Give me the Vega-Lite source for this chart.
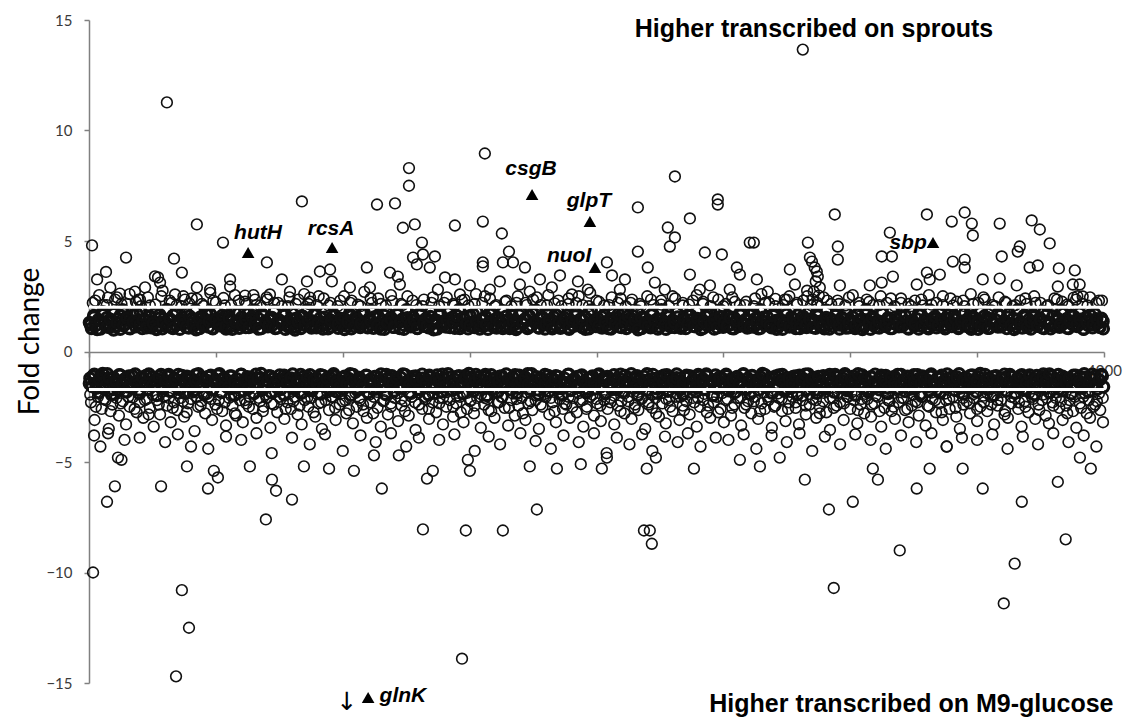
{
"$schema": "https://vega.github.io/schema/vega-lite/v6.json",
"width": 1015, "height": 663,
"autosize": {"type": "none"},
"padding": {"left": 89, "top": 20, "right": 20, "bottom": 34},
"background": "white",
"config": {"view": {"stroke": null}, "axis": {"grid": false, "labelFont": "Lato", "titleFont": "Lato", "labelColor": "#3a3a3a", "domainColor": "#808080", "tickColor": "#808080", "domainWidth": 1.5, "tickWidth": 1.5}},
"encoding": {
"x": {"field": "x", "type": "quantitative", "scale": {"domain": [0, 4000], "nice": false}, "axis": {"values": [0,500,1000,1500,2000,2500,3000,3500,4000], "offset": -331, "tickSize": 5, "labelExpr": "datum.value == 4000 ? '4000' : ''", "labelFlush": false, "labelOverlap": false, "labelFontSize": 15, "labelPadding": 6, "title": null}},
"y": {"field": "y", "type": "quantitative", "scale": {"domain": [-15, 15], "nice": false, "zero": false}, "axis": {"values": [-15,-10,-5,0,5,10,15], "tickSize": 5, "labelFontSize": 15, "labelPadding": 12, "title": "Fold change", "titleFontSize": 28, "titleFontWeight": "normal", "titleColor": "#000", "titleX": -59, "titleY": 321, "titleAngle": -90, "titleAlign": "center", "titleBaseline": "middle"}}
},
"layer": [
{"data": {"values": "x,y\n2,1.31\n10,1.05\n19,1.62\n27,1.18\n37,1.44\n45,1.02\n54,1.79\n62,1.27\n71,1.53\n80,1.09\n88,1.36\n98,1.71\n106,1.14\n115,1.48\n123,1.01\n132,1.88\n141,1.23\n149,1.57\n158,1.06\n167,1.39\n175,1.66\n184,1.12\n193,1.29\n201,1.83\n210,1.04\n219,1.46\n228,1.21\n236,1.6\n245,1.08\n254,1.34\n262,1.75\n271,1.16\n280,1.51\n289,1.03\n297,1.25\n306,1.9\n315,1.41\n323,1.1\n332,1.64\n341,1.19\n349,1.37\n358,1.01\n367,1.55\n375,1.28\n384,1.73\n393,1.07\n401,1.45\n410,1.15\n419,1.86\n427,1.32\n436,1.05\n445,1.59\n453,1.22\n462,1.42\n471,1.11\n479,1.68\n488,1.03\n497,1.35\n505,1.8\n514,1.17\n523,1.49\n532,1.26\n540,1.02\n549,1.63\n558,1.13\n566,1.4\n575,1.77\n584,1.2\n592,1.06\n601,1.54\n610,1.3\n618,1.09\n627,1.7\n636,1.38\n644,1.14\n653,1.87\n662,1.24\n670,1.47\n679,1.04\n688,1.61\n696,1.33\n705,1.12\n714,1.52\n722,1.19\n731,1.84\n740,1.07\n748,1.43\n757,1.27\n766,1.65\n774,1.01\n783,1.36\n792,1.18\n800,1.74\n809,1.1\n818,1.5\n826,1.29\n835,1.05\n844,1.58\n852,1.21\n861,1.89\n870,1.14\n878,1.39\n887,1.66\n896,1.08\n904,1.31\n913,1.53\n922,1.02\n930,1.78\n939,1.23\n948,1.44\n956,1.12\n965,1.6\n974,1.35\n982,1.06\n991,1.82\n1000,1.26\n1008,1.47\n1017,1.15\n1026,1.69\n1034,1.03\n1043,1.37\n1052,1.56\n1060,1.2\n1069,1.09\n1078,1.72\n1086,1.32\n1095,1.13\n1104,1.49\n1112,1.85\n1121,1.06\n1130,1.28\n1138,1.62\n1147,1.17\n1156,1.41\n1164,1.01\n1173,1.76\n1182,1.24\n1190,1.54\n1199,1.1\n1208,1.34\n1216,1.67\n1225,1.05\n1234,1.45\n1242,1.19\n1251,1.88\n1260,1.3\n1268,1.12\n1277,1.57\n1286,1.22\n1294,1.04\n1303,1.71\n1312,1.38\n1320,1.15\n1329,1.5\n1338,1.08\n1346,1.81\n1355,1.27\n1364,1.43\n1372,1.02\n1381,1.64\n1390,1.18\n1398,1.35\n1407,1.11\n1416,1.75\n1424,1.29\n1433,1.55\n1442,1.06\n1450,1.4\n1459,1.9\n1468,1.16\n1476,1.47\n1485,1.23\n1494,1.03\n1502,1.61\n1511,1.33\n1520,1.09\n1528,1.79\n1537,1.2\n1546,1.44\n1554,1.13\n1563,1.58\n1572,1.01\n1580,1.36\n1589,1.7\n1598,1.25\n1606,1.07\n1615,1.52\n1624,1.31\n1632,1.84\n1641,1.14\n1650,1.42\n1658,1.05\n1667,1.65\n1676,1.22\n1684,1.39\n1693,1.1\n1702,1.77\n1710,1.28\n1719,1.48\n1728,1.04\n1736,1.6\n1745,1.17\n1754,1.34\n1762,1.86\n1771,1.08\n1780,1.51\n1788,1.24\n1797,1.02\n1806,1.68\n1814,1.37\n1823,1.12\n1832,1.56\n1840,1.19\n1849,1.8\n1858,1.06\n1866,1.43\n1875,1.3\n1884,1.63\n1892,1.01\n1901,1.39\n1910,1.15\n1918,1.74\n1927,1.26\n1936,1.46\n1944,1.09\n1953,1.59\n1962,1.21\n1970,1.03\n1979,1.87\n1988,1.33\n1996,1.13\n2005,1.5\n2014,1.27\n2022,1.07\n2031,1.66\n2040,1.18\n2048,1.41\n2057,1.02\n2066,1.78\n2074,1.29\n2083,1.53\n2092,1.11\n2100,1.36\n2109,1.72\n2118,1.05\n2126,1.45\n2135,1.22\n2144,1.61\n2152,1.14\n2161,1.83\n2170,1.32\n2178,1.04\n2187,1.55\n2196,1.19\n2204,1.4\n2213,1.08\n2222,1.69\n2230,1.25\n2239,1.47\n2248,1.12\n2256,1.89\n2265,1.35\n2274,1.01\n2282,1.57\n2291,1.23\n2300,1.42\n2308,1.09\n2317,1.76\n2326,1.3\n2334,1.16\n2343,1.52\n2352,1.04\n2360,1.64\n2369,1.28\n2378,1.44\n2386,1.13\n2395,1.81\n2404,1.21\n2412,1.38\n2421,1.06\n2430,1.59\n2438,1.17\n2447,1.73\n2456,1.31\n2464,1.02\n2473,1.49\n2482,1.26\n2490,1.85\n2499,1.1\n2508,1.37\n2516,1.62\n2525,1.2\n2534,1.05\n2542,1.54\n2551,1.33\n2560,1.14\n2568,1.79\n2577,1.24\n2586,1.43\n2594,1.07\n2603,1.67\n2612,1.29\n2620,1.11\n2629,1.51\n2638,1.03\n2646,1.88\n2655,1.36\n2664,1.18\n2672,1.58\n2681,1.25\n2690,1.08\n2698,1.7\n2707,1.4\n2716,1.15\n2724,1.46\n2733,1.01\n2742,1.82\n2750,1.3\n2759,1.12\n2768,1.56\n2776,1.22\n2785,1.04\n2794,1.65\n2802,1.34\n2811,1.19\n2820,1.5\n2828,1.09\n2837,1.77\n2846,1.27\n2854,1.42\n2863,1.06\n2872,1.6\n2880,1.16\n2889,1.38\n2898,1.03\n2906,1.86\n2915,1.23\n2924,1.47\n2932,1.13\n2941,1.63\n2950,1.32\n2958,1.02\n2967,1.53\n2976,1.2\n2984,1.75\n2993,1.08\n3002,1.41\n3010,1.28\n3019,1.05\n3028,1.68\n3036,1.17\n3045,1.44\n3054,1.11\n3062,1.9\n3071,1.35\n3080,1.01\n3088,1.57\n3097,1.24\n3106,1.39\n3114,1.07\n3123,1.73\n3132,1.3\n3140,1.14\n3149,1.52\n3158,1.04\n3166,1.84\n3175,1.26\n3184,1.45\n3192,1.12\n3201,1.61\n3210,1.21\n3218,1.36\n3227,1.06\n3236,1.79\n3244,1.33\n3253,1.15\n3262,1.48\n3270,1.02\n3279,1.66\n3288,1.27\n3296,1.43\n3305,1.1\n3314,1.87\n3322,1.22\n3331,1.55\n3340,1.08\n3348,1.37\n3357,1.71\n3366,1.18\n3374,1.03\n3383,1.5\n3392,1.29\n3400,1.13\n3409,1.64\n3418,1.25\n3426,1.05\n3435,1.8\n3444,1.34\n3452,1.16\n3461,1.46\n3470,1.09\n3478,1.59\n3487,1.23\n3496,1.4\n3504,1.01\n3513,1.76\n3522,1.31\n3530,1.14\n3539,1.53\n3548,1.06\n3556,1.83\n3565,1.28\n3574,1.42\n3582,1.11\n3591,1.62\n3600,1.19\n3608,1.35\n3617,1.04\n3626,1.7\n3634,1.26\n3643,1.49\n3652,1.12\n3660,1.88\n3669,1.32\n3678,1.07\n3686,1.56\n3695,1.2\n3704,1.44\n3712,1.02\n3721,1.67\n3730,1.29\n3738,1.15\n3747,1.51\n3756,1.08\n3764,1.78\n3773,1.36\n3782,1.24\n3790,1.03\n3799,1.6\n3808,1.17\n3816,1.41\n3825,1.1\n3834,1.85\n3842,1.27\n3851,1.47\n3860,1.05\n3868,1.63\n3877,1.21\n3886,1.38\n3894,1.13\n3903,1.74\n3912,1.3\n3920,1.01\n3929,1.54\n3938,1.18\n3946,1.43\n3955,1.08\n3964,1.69\n3972,1.25\n3981,1.11\n3990,1.5\n3997,1.03\n4,-1.22\n12,-1.58\n21,-1.03\n29,-1.41\n38,-1.87\n46,-1.14\n55,-1.66\n63,-1.29\n72,-1.01\n80,-1.49\n89,-1.95\n97,-1.18\n106,-1.36\n114,-1.74\n123,-1.07\n131,-1.52\n140,-1.25\n148,-1.83\n157,-1.11\n165,-1.44\n174,-1.62\n182,-1.02\n191,-1.33\n199,-1.91\n208,-1.19\n216,-1.55\n225,-1.09\n233,-1.71\n242,-1.38\n250,-1.16\n259,-1.48\n267,-1.99\n276,-1.27\n284,-1.05\n293,-1.64\n301,-1.35\n310,-1.13\n318,-1.8\n327,-1.42\n335,-1.21\n344,-1.57\n352,-1.04\n361,-1.69\n369,-1.31\n378,-1.89\n386,-1.12\n395,-1.46\n403,-1.23\n412,-1.76\n420,-1.06\n429,-1.39\n437,-1.6\n446,-1.17\n454,-1.94\n463,-1.3\n471,-1.5\n480,-1.08\n488,-1.72\n497,-1.26\n505,-1.43\n514,-1.01\n522,-1.85\n531,-1.2\n539,-1.56\n548,-1.34\n556,-1.11\n565,-1.67\n573,-1.97\n582,-1.24\n590,-1.47\n599,-1.05\n607,-1.78\n616,-1.37\n624,-1.15\n633,-1.61\n641,-1.28\n650,-1.9\n658,-1.03\n667,-1.45\n675,-1.19\n684,-1.73\n692,-1.32\n701,-1.54\n709,-1.1\n718,-1.84\n726,-1.22\n735,-1.4\n743,-1.65\n752,-1.07\n760,-1.3\n769,-1.96\n777,-1.17\n786,-1.51\n794,-1.36\n803,-1.02\n811,-1.7\n820,-1.25\n828,-1.44\n837,-1.88\n845,-1.13\n854,-1.59\n862,-1.29\n871,-1.06\n879,-1.77\n888,-1.41\n896,-1.2\n905,-1.53\n913,-1.92\n922,-1.09\n930,-1.34\n939,-1.63\n947,-1.16\n956,-1.48\n964,-1.01\n973,-1.81\n981,-1.27\n990,-1.38\n998,-1.68\n1007,-1.12\n1015,-1.55\n1024,-1.23\n1032,-1.98\n1041,-1.04\n1049,-1.42\n1058,-1.75\n1066,-1.18\n1075,-1.31\n1083,-1.6\n1092,-1.08\n1100,-1.86\n1109,-1.26\n1117,-1.47\n1126,-1.14\n1134,-1.69\n1143,-1.35\n1151,-1.02\n1160,-1.57\n1168,-1.93\n1177,-1.21\n1185,-1.45\n1194,-1.1\n1202,-1.79\n1211,-1.32\n1219,-1.52\n1228,-1.17\n1236,-1.64\n1245,-1.05\n1253,-1.4\n1262,-1.87\n1270,-1.24\n1279,-1.5\n1287,-1.11\n1296,-1.71\n1304,-1.37\n1313,-1.03\n1321,-1.58\n1330,-1.28\n1338,-1.95\n1347,-1.15\n1355,-1.43\n1364,-1.66\n1372,-1.07\n1381,-1.33\n1389,-1.82\n1398,-1.2\n1406,-1.54\n1415,-1.01\n1423,-1.47\n1432,-1.74\n1440,-1.25\n1449,-1.13\n1457,-1.62\n1466,-1.39\n1474,-1.9\n1483,-1.09\n1491,-1.3\n1500,-1.56\n1508,-1.19\n1517,-1.78\n1525,-1.04\n1534,-1.44\n1542,-1.27\n1551,-1.67\n1559,-1.14\n1568,-1.99\n1576,-1.36\n1585,-1.06\n1593,-1.51\n1602,-1.22\n1610,-1.84\n1619,-1.12\n1627,-1.41\n1636,-1.61\n1644,-1.02\n1653,-1.29\n1661,-1.73\n1670,-1.17\n1678,-1.48\n1687,-1.89\n1695,-1.08\n1704,-1.35\n1712,-1.55\n1721,-1.23\n1729,-1.01\n1738,-1.7\n1746,-1.31\n1755,-1.46\n1763,-1.15\n1772,-1.93\n1780,-1.26\n1789,-1.59\n1797,-1.05\n1806,-1.38\n1814,-1.8\n1823,-1.18\n1831,-1.5\n1840,-1.1\n1848,-1.65\n1857,-1.33\n1865,-1.96\n1874,-1.21\n1882,-1.43\n1891,-1.03\n1899,-1.76\n1908,-1.28\n1916,-1.53\n1925,-1.14\n1933,-1.62\n1942,-1.07\n1950,-1.4\n1959,-1.86\n1967,-1.24\n1976,-1.47\n1984,-1.11\n1993,-1.69\n2001,-1.34\n2010,-1.02\n2018,-1.57\n2027,-1.2\n2035,-1.91\n2044,-1.16\n2052,-1.44\n2061,-1.72\n2069,-1.06\n2078,-1.3\n2086,-1.6\n2095,-1.25\n2103,-1.83\n2112,-1.09\n2120,-1.49\n2129,-1.37\n2137,-1.01\n2146,-1.66\n2154,-1.19\n2163,-1.97\n2171,-1.28\n2180,-1.45\n2188,-1.13\n2197,-1.75\n2205,-1.32\n2214,-1.54\n2222,-1.04\n2231,-1.41\n2239,-1.88\n2248,-1.22\n2256,-1.63\n2265,-1.08\n2273,-1.35\n2282,-1.79\n2290,-1.15\n2299,-1.51\n2307,-1.27\n2316,-1.02\n2324,-1.68\n2333,-1.39\n2341,-1.94\n2350,-1.17\n2358,-1.46\n2367,-1.1\n2375,-1.58\n2384,-1.29\n2392,-1.82\n2401,-1.05\n2409,-1.42\n2418,-1.23\n2426,-1.71\n2435,-1.12\n2443,-1.52\n2452,-1.36\n2460,-1.99\n2469,-1.07\n2477,-1.31\n2486,-1.64\n2494,-1.2\n2503,-1.48\n2511,-1.03\n2520,-1.77\n2528,-1.26\n2537,-1.4\n2545,-1.85\n2554,-1.14\n2562,-1.56\n2571,-1.33\n2579,-1.01\n2588,-1.67\n2596,-1.21\n2605,-1.92\n2613,-1.09\n2622,-1.45\n2630,-1.28\n2639,-1.74\n2647,-1.16\n2656,-1.5\n2664,-1.06\n2673,-1.61\n2681,-1.38\n2690,-1.87\n2698,-1.24\n2707,-1.11\n2715,-1.55\n2724,-1.32\n2732,-1.04\n2741,-1.8\n2749,-1.19\n2758,-1.43\n2766,-1.66\n2775,-1.13\n2783,-1.35\n2792,-1.95\n2800,-1.08\n2809,-1.47\n2817,-1.25\n2826,-1.72\n2834,-1.02\n2843,-1.39\n2851,-1.59\n2860,-1.18\n2868,-1.89\n2877,-1.3\n2885,-1.52\n2894,-1.1\n2902,-1.69\n2911,-1.27\n2919,-1.05\n2928,-1.44\n2936,-1.83\n2945,-1.15\n2953,-1.36\n2962,-1.62\n2970,-1.21\n2979,-1.01\n2987,-1.76\n2996,-1.34\n3004,-1.49\n3013,-1.12\n3021,-1.97\n3030,-1.23\n3038,-1.41\n3047,-1.07\n3055,-1.65\n3064,-1.29\n3072,-1.84\n3081,-1.16\n3089,-1.53\n3098,-1.03\n3106,-1.38\n3115,-1.73\n3123,-1.2\n3132,-1.46\n3140,-1.09\n3149,-1.9\n3157,-1.31\n3166,-1.57\n3174,-1.14\n3183,-1.26\n3191,-1.68\n3200,-1.04\n3208,-1.42\n3217,-1.81\n3225,-1.17\n3234,-1.5\n3242,-1.35\n3251,-1.06\n3259,-1.63\n3268,-1.24\n3276,-1.94\n3285,-1.11\n3293,-1.45\n3302,-1.28\n3310,-1.78\n3319,-1.02\n3327,-1.37\n3336,-1.55\n3344,-1.19\n3353,-1.86\n3361,-1.08\n3370,-1.33\n3378,-1.6\n3387,-1.22\n3395,-1.47\n3404,-1.13\n3412,-1.75\n3421,-1.3\n3429,-1.01\n3438,-1.52\n3446,-1.92\n3455,-1.18\n3463,-1.4\n3472,-1.66\n3480,-1.07\n3489,-1.27\n3497,-1.83\n3506,-1.15\n3514,-1.54\n3523,-1.36\n3531,-1.04\n3540,-1.7\n3548,-1.21\n3557,-1.44\n3565,-1.98\n3574,-1.1\n3582,-1.32\n3591,-1.58\n3599,-1.25\n3608,-1.03\n3616,-1.79\n3625,-1.39\n3633,-1.14\n3642,-1.49\n3650,-1.88\n3659,-1.2\n3667,-1.61\n3676,-1.06\n3684,-1.34\n3693,-1.72\n3701,-1.17\n3710,-1.43\n3718,-1.28\n3727,-1.95\n3735,-1.09\n3744,-1.53\n3752,-1.3\n3761,-1.02\n3769,-1.67\n3778,-1.23\n3786,-1.85\n3795,-1.12\n3803,-1.41\n3812,-1.59\n3820,-1.05\n3829,-1.35\n3837,-1.77\n3846,-1.19\n3854,-1.46\n3863,-1.26\n3871,-1.91\n3880,-1.08\n3888,-1.55\n3897,-1.33\n3905,-1.14\n3914,-1.64\n3922,-1.01\n3931,-1.4\n3939,-1.82\n3948,-1.22\n3956,-1.5\n3965,-1.11\n3973,-1.7\n3982,-1.29\n3990,-1.04\n3998,-1.6", "format": {"type": "csv", "parse": {"x": "number", "y": "number"}}},
 "mark": {"type": "point", "shape": "circle", "filled": false, "color": "#111", "strokeWidth": 3.2, "size": 110, "opacity": 1}},
{"data": {"values": "x,y\n6,1.22\n19,1.55\n32,1.0\n45,1.38\n58,1.68\n71,1.12\n84,1.45\n97,0.98\n110,1.3\n123,1.62\n136,1.17\n149,1.5\n162,1.03\n175,1.35\n188,1.72\n201,1.2\n214,1.42\n227,1.08\n240,1.58\n253,1.27\n266,1.0\n279,1.66\n292,1.33\n305,1.13\n318,1.48\n331,1.04\n344,1.74\n357,1.24\n370,1.4\n383,1.1\n396,1.6\n409,1.29\n422,0.99\n435,1.52\n448,1.18\n461,1.7\n474,1.36\n487,1.06\n500,1.44\n513,1.23\n526,1.64\n539,1.14\n552,1.5\n565,1.01\n578,1.32\n591,1.73\n604,1.2\n617,1.46\n630,1.09\n643,1.57\n656,1.28\n669,1.02\n682,1.69\n695,1.37\n708,1.16\n721,1.53\n734,1.05\n747,1.41\n760,1.25\n773,1.67\n786,1.11\n799,1.47\n812,0.98\n825,1.34\n838,1.61\n851,1.19\n864,1.43\n877,1.07\n890,1.71\n903,1.3\n916,1.15\n929,1.55\n942,1.03\n955,1.39\n968,1.65\n981,1.21\n994,1.49\n1007,1.0\n1020,1.33\n1033,1.6\n1046,1.13\n1059,1.45\n1072,1.26\n1085,1.74\n1098,1.08\n1111,1.38\n1124,1.56\n1137,1.17\n1150,1.02\n1163,1.63\n1176,1.29\n1189,1.48\n1202,1.1\n1215,1.7\n1228,1.35\n1241,1.01\n1254,1.52\n1267,1.23\n1280,1.42\n1293,1.06\n1306,1.66\n1319,1.31\n1332,1.14\n1345,1.58\n1358,0.99\n1371,1.4\n1384,1.72\n1397,1.2\n1410,1.47\n1423,1.09\n1436,1.34\n1449,1.62\n1462,1.04\n1475,1.53\n1488,1.27\n1501,1.16\n1514,1.68\n1527,1.37\n1540,1.02\n1553,1.44\n1566,1.22\n1579,1.75\n1592,1.12\n1605,1.49\n1618,1.3\n1631,1.05\n1644,1.59\n1657,1.18\n1670,1.39\n1683,1.0\n1696,1.64\n1709,1.26\n1722,1.46\n1735,1.11\n1748,1.71\n1761,1.33\n1774,1.07\n1787,1.55\n1800,1.21\n1813,1.41\n1826,1.03\n1839,1.67\n1852,1.29\n1865,1.15\n1878,1.5\n1891,1.08\n1904,1.36\n1917,1.61\n1930,1.19\n1943,1.45\n1956,1.01\n1969,1.73\n1982,1.25\n1995,1.4\n2008,1.12\n2021,1.57\n2034,1.31\n2047,1.04\n2060,1.48\n2073,1.23\n2086,1.69\n2099,1.09\n2112,1.35\n2125,1.6\n2138,1.17\n2151,1.43\n2164,0.99\n2177,1.52\n2190,1.28\n2203,1.13\n2216,1.66\n2229,1.38\n2242,1.02\n2255,1.47\n2268,1.2\n2281,1.74\n2294,1.1\n2307,1.32\n2320,1.56\n2333,1.06\n2346,1.42\n2359,1.24\n2372,1.63\n2385,1.14\n2398,1.49\n2411,1.0\n2424,1.37\n2437,1.7\n2450,1.22\n2463,1.44\n2476,1.08\n2489,1.58\n2502,1.3\n2515,1.15\n2528,1.51\n2541,1.03\n2554,1.39\n2567,1.65\n2580,1.19\n2593,1.46\n2606,1.11\n2619,1.72\n2632,1.27\n2645,1.05\n2658,1.54\n2671,1.34\n2684,1.16\n2697,1.62\n2710,1.01\n2723,1.41\n2736,1.23\n2749,1.68\n2762,1.12\n2775,1.48\n2788,1.29\n2801,1.04\n2814,1.59\n2827,1.21\n2840,1.44\n2853,1.09\n2866,1.71\n2879,1.35\n2892,1.14\n2905,1.53\n2918,1.02\n2931,1.38\n2944,1.64\n2957,1.2\n2970,1.46\n2983,1.07\n2996,1.31\n3009,1.57\n3022,1.17\n3035,1.42\n3048,1.0\n3061,1.67\n3074,1.26\n3087,1.49\n3100,1.1\n3113,1.36\n3126,1.73\n3139,1.22\n3152,1.45\n3165,1.05\n3178,1.55\n3191,1.3\n3204,1.13\n3217,1.61\n3230,1.02\n3243,1.4\n3256,1.25\n3269,1.69\n3282,1.15\n3295,1.47\n3308,1.03\n3321,1.34\n3334,1.58\n3347,1.19\n3360,1.43\n3373,1.08\n3386,1.66\n3399,1.28\n3412,1.5\n3425,1.11\n3438,1.37\n3451,1.74\n3464,1.21\n3477,1.01\n3490,1.52\n3503,1.32\n3516,1.14\n3529,1.6\n3542,1.06\n3555,1.44\n3568,1.24\n3581,1.7\n3594,1.12\n3607,1.39\n3620,1.55\n3633,1.18\n3646,1.0\n3659,1.46\n3672,1.27\n3685,1.63\n3698,1.09\n3711,1.35\n3724,1.57\n3737,1.16\n3750,1.42\n3763,1.04\n3776,1.68\n3789,1.3\n3802,1.13\n3815,1.51\n3828,1.22\n3841,1.72\n3854,1.07\n3867,1.38\n3880,1.6\n3893,1.19\n3906,1.45\n3919,1.02\n3932,1.33\n3945,1.65\n3958,1.23\n3971,1.48\n3984,1.1\n3996,1.36\n2,-1.45\n15,-1.12\n28,-1.66\n41,-1.27\n54,-1.0\n67,-1.53\n80,-1.2\n93,-1.71\n106,-1.35\n119,-1.06\n132,-1.48\n145,-1.23\n158,-1.61\n171,-1.1\n184,-1.39\n197,-1.74\n210,-1.16\n223,-1.44\n236,-1.02\n249,-1.57\n262,-1.3\n275,-1.13\n288,-1.67\n301,-1.38\n314,-1.05\n327,-1.5\n340,-1.25\n353,-1.7\n366,-1.09\n379,-1.42\n392,-1.19\n405,-1.62\n418,-1.33\n431,-1.01\n444,-1.55\n457,-1.28\n470,-1.14\n483,-1.73\n496,-1.4\n509,-1.07\n522,-1.47\n535,-1.21\n548,-1.64\n561,-1.11\n574,-1.36\n587,-1.58\n600,-1.03\n613,-1.31\n626,-1.69\n639,-1.17\n652,-1.45\n665,-1.24\n678,-1.0\n691,-1.6\n704,-1.34\n717,-1.12\n730,-1.52\n743,-1.27\n756,-1.72\n769,-1.08\n782,-1.41\n795,-1.2\n808,-1.63\n821,-1.37\n834,-1.04\n847,-1.49\n860,-1.15\n873,-1.68\n886,-1.29\n899,-1.43\n912,-1.06\n925,-1.56\n938,-1.22\n951,-1.74\n964,-1.11\n977,-1.39\n990,-1.6\n1003,-1.18\n1016,-1.46\n1029,-1.01\n1042,-1.32\n1055,-1.65\n1068,-1.25\n1081,-1.5\n1094,-1.09\n1107,-1.41\n1120,-1.7\n1133,-1.14\n1146,-1.35\n1159,-1.59\n1172,-1.05\n1185,-1.28\n1198,-1.47\n1211,-1.19\n1224,-1.66\n1237,-1.02\n1250,-1.38\n1263,-1.54\n1276,-1.13\n1289,-1.31\n1302,-1.73\n1315,-1.21\n1328,-1.44\n1341,-1.08\n1354,-1.61\n1367,-1.26\n1380,-1.4\n1393,-1.03\n1406,-1.57\n1419,-1.17\n1432,-1.36\n1445,-1.69\n1458,-1.1\n1471,-1.48\n1484,-1.23\n1497,-1.0\n1510,-1.62\n1523,-1.3\n1536,-1.15\n1549,-1.52\n1562,-1.04\n1575,-1.42\n1588,-1.71\n1601,-1.2\n1614,-1.37\n1627,-1.11\n1640,-1.58\n1653,-1.27\n1666,-1.45\n1679,-1.06\n1692,-1.65\n1705,-1.33\n1718,-1.16\n1731,-1.5\n1744,-1.01\n1757,-1.39\n1770,-1.74\n1783,-1.22\n1796,-1.46\n1809,-1.09\n1822,-1.55\n1835,-1.29\n1848,-1.13\n1861,-1.67\n1874,-1.41\n1887,-1.04\n1900,-1.51\n1913,-1.24\n1926,-1.6\n1939,-1.12\n1952,-1.35\n1965,-1.7\n1978,-1.18\n1991,-1.44\n2004,-1.07\n2017,-1.59\n2030,-1.32\n2043,-1.14\n2056,-1.48\n2069,-1.26\n2082,-1.72\n2095,-1.03\n2108,-1.38\n2121,-1.56\n2134,-1.2\n2147,-1.43\n2160,-1.1\n2173,-1.64\n2186,-1.3\n2199,-1.01\n2212,-1.53\n2225,-1.23\n2238,-1.68\n2251,-1.15\n2264,-1.4\n2277,-1.06\n2290,-1.57\n2303,-1.34\n2316,-1.19\n2329,-1.73\n2342,-1.45\n2355,-1.08\n2368,-1.5\n2381,-1.25\n2394,-1.62\n2407,-1.13\n2420,-1.37\n2433,-1.02\n2446,-1.55\n2459,-1.28\n2472,-1.66\n2485,-1.16\n2498,-1.42\n2511,-1.09\n2524,-1.6\n2537,-1.31\n2550,-1.2\n2563,-1.47\n2576,-1.04\n2589,-1.7\n2602,-1.36\n2615,-1.12\n2628,-1.52\n2641,-1.27\n2654,-1.0\n2667,-1.63\n2680,-1.41\n2693,-1.17\n2706,-1.55\n2719,-1.07\n2732,-1.34\n2745,-1.69\n2758,-1.22\n2771,-1.46\n2784,-1.11\n2797,-1.58\n2810,-1.3\n2823,-1.03\n2836,-1.49\n2849,-1.24\n2862,-1.74\n2875,-1.14\n2888,-1.39\n2901,-1.61\n2914,-1.19\n2927,-1.43\n2940,-1.05\n2953,-1.56\n2966,-1.32\n2979,-1.1\n2992,-1.67\n3005,-1.26\n3018,-1.45\n3031,-1.01\n3044,-1.52\n3057,-1.21\n3070,-1.71\n3083,-1.15\n3096,-1.37\n3109,-1.59\n3122,-1.08\n3135,-1.33\n3148,-1.64\n3161,-1.18\n3174,-1.44\n3187,-1.04\n3200,-1.53\n3213,-1.29\n3226,-1.12\n3239,-1.69\n3252,-1.4\n3265,-1.06\n3278,-1.48\n3291,-1.23\n3304,-1.6\n3317,-1.13\n3330,-1.36\n3343,-1.73\n3356,-1.2\n3369,-1.46\n3382,-1.02\n3395,-1.55\n3408,-1.31\n3421,-1.16\n3434,-1.65\n3447,-1.27\n3460,-1.42\n3473,-1.09\n3486,-1.58\n3499,-1.34\n3512,-1.0\n3525,-1.5\n3538,-1.22\n3551,-1.68\n3564,-1.14\n3577,-1.38\n3590,-1.61\n3603,-1.19\n3616,-1.44\n3629,-1.05\n3642,-1.57\n3655,-1.3\n3668,-1.11\n3681,-1.72\n3694,-1.41\n3707,-1.07\n3720,-1.49\n3733,-1.25\n3746,-1.63\n3759,-1.15\n3772,-1.36\n3785,-1.02\n3798,-1.54\n3811,-1.28\n3824,-1.7\n3837,-1.12\n3850,-1.43\n3863,-1.21\n3876,-1.59\n3889,-1.08\n3902,-1.39\n3915,-1.66\n3928,-1.17\n3941,-1.47\n3954,-1.03\n3967,-1.56\n3980,-1.29\n3993,-1.11", "format": {"type": "csv", "parse": {"x": "number", "y": "number"}}},
 "mark": {"type": "point", "shape": "circle", "filled": false, "color": "#111", "strokeWidth": 3.2, "size": 110, "opacity": 1}},
{"data": {"values": "x,y\n12,4.8\n32,3.26\n67,3.6\n146,4.25\n272,3.35\n307,11.27\n335,4.2\n366,3.57\n425,5.75\n528,4.93\n556,3.26\n556,2.94\n701,4.03\n260,3.4\n280,3.12\n425,2.9\n760,3.26\n839,6.79\n910,3.62\n950,3.71\n957,3.17\n859,3.17\n1028,2.9\n1095,3.8\n1107,2.9\n1135,6.65\n1206,6.7\n1237,5.6\n1284,5.75\n1312,4.93\n1316,4.39\n1277,4.25\n1363,4.3\n1292,3.94\n1343,3.8\n1217,3.39\n1186,3.57\n1403,3.35\n1225,3.03\n1375,2.8\n1261,8.3\n1261,7.5\n1560,8.96\n1442,5.7\n1552,5.88\n1627,5.34\n1655,4.52\n1552,4.03\n1631,4.03\n1671,4.03\n1718,3.8\n1552,3.85\n2163,6.52\n2309,7.92\n2368,6.02\n2478,6.88\n2478,6.65\n2281,5.61\n2309,5.16\n2289,4.75\n2163,4.52\n2202,3.8\n2041,4.03\n2427,4.48\n2494,4.39\n2553,3.8\n2565,3.48\n2604,4.93\n2939,6.2\n2951,4.75\n2951,4.16\n3156,5.38\n3124,4.3\n3164,4.3\n3302,6.2\n3400,5.88\n3451,6.29\n3479,5.79\n3483,5.25\n3589,5.79\n3715,5.93\n3747,5.52\n3786,4.89\n3668,4.75\n3660,4.52\n3597,4.3\n3451,4.16\n3451,3.8\n3404,4.07\n3168,3.39\n3302,3.57\n3353,3.48\n3522,3.26\n3589,3.3\n3656,2.99\n3707,3.8\n3739,3.89\n3818,2.94\n3885,3.67\n3877,3.03\n3904,3.03\n3916,2.49\n3077,2.99\n3124,3.12\n3262,3.03\n3313,3.26\n2959,2.99\n2813,13.66\n2620,4.93\n2833,4.93\n2849,4.07\n2860,3.8\n2868,3.62\n2872,3.39\n2864,3.17\n2880,2.9\n2856,2.71\n2876,2.53\n2852,2.35\n2841,4.25\n2762,3.71\n2782,3.03\n3822,3.76\n3881,2.44\n1927,3.17\n1966,2.8\n1903,2.58\n2061,3.44\n2092,2.8\n2112,3.26\n2230,3.12\n2269,2.8\n2368,3.48\n2407,2.8\n2447,2.99\n2525,2.8\n2632,3.26\n2675,2.71\n2742,2.35\n1777,3.26\n1824,2.9\n1856,3.44\n1737,2.71\n1698,3.03\n1619,3.17\n1580,2.8\n1501,2.99\n1462,2.58\n1442,3.26\n181,2.71\n221,2.9\n201,2.35\n122,2.62\n75,2.44\n339,2.58\n378,2.35\n477,2.8\n615,2.53\n654,2.35\n713,2.58\n792,2.71\n871,2.44\n15,2.2\n40,2.55\n58,2.1\n84,2.9\n103,2.35\n128,2.15\n160,2.6\n185,2.25\n205,2.05\n232,2.45\n262,2.12\n290,2.75\n318,2.3\n345,2.08\n372,2.5\n395,2.18\n425,2.38\n452,2.06\n478,2.65\n500,2.22\n530,2.42\n560,2.1\n590,2.3\n620,2.15\n648,2.55\n675,2.08\n703,2.35\n730,2.2\n760,2.05\n790,2.45\n815,2.15\n848,2.6\n872,2.25\n898,2.1\n925,2.4\n952,2.2\n980,2.05\n1005,2.5\n1035,2.3\n1060,2.12\n1085,2.7\n1115,2.2\n1140,2.4\n1170,2.08\n1195,2.28\n1230,2.15\n1255,2.5\n1290,2.1\n1320,2.35\n1350,2.2\n1380,2.05\n1410,2.45\n1435,2.15\n1470,2.3\n1495,2.08\n1525,2.6\n1550,2.2\n1580,2.4\n1605,2.1\n1640,2.25\n1665,2.05\n1690,2.5\n1720,2.2\n1750,2.35\n1780,2.1\n1810,2.55\n1835,2.18\n1862,2.05\n1890,2.4\n1920,2.2\n1945,2.1\n1975,2.65\n2000,2.3\n2030,2.08\n2060,2.45\n2085,2.2\n2115,2.05\n2140,2.35\n2170,2.15\n2200,2.5\n2225,2.1\n2255,2.3\n2285,2.06\n2310,2.4\n2340,2.2\n2365,2.12\n2395,2.55\n2420,2.25\n2450,2.05\n2480,2.35\n2510,2.15\n2535,2.45\n2565,2.1\n2590,2.25\n2620,2.05\n2650,2.6\n2680,2.2\n2705,2.38\n2735,2.1\n2760,2.5\n2790,2.2\n2815,2.3\n2830,2.75\n2845,2.1\n2870,2.2\n2895,2.45\n2925,2.15\n2950,2.3\n2980,2.08\n3010,2.55\n3035,2.2\n3065,2.35\n3090,2.1\n3120,2.5\n3145,2.2\n3175,2.05\n3200,2.4\n3230,2.15\n3255,2.3\n3285,2.08\n3310,2.55\n3340,2.2\n3365,2.1\n3395,2.4\n3420,2.25\n3450,2.05\n3475,2.6\n3505,2.2\n3530,2.35\n3560,2.1\n3585,2.45\n3615,2.2\n3640,2.05\n3670,2.3\n3695,2.15\n3725,2.5\n3750,2.2\n3780,2.1\n3805,2.4\n3835,2.25\n3860,2.05\n3890,2.35\n3915,2.15\n3945,2.45\n3970,2.2\n3992,2.3\n8,-2.3\n22,-3.1\n35,-2.05\n50,-2.6\n66,-2.2\n78,-3.5\n92,-2.4\n108,-2.1\n118,-2.9\n133,-2.25\n146,-3.3\n160,-2.5\n172,-2.08\n188,-2.75\n200,-2.3\n214,-3.0\n228,-2.15\n240,-2.55\n255,-3.4\n268,-2.2\n280,-2.85\n295,-2.05\n308,-2.45\n322,-3.2\n335,-2.3\n348,-2.65\n362,-2.1\n375,-2.95\n390,-2.35\n402,-2.15\n416,-3.6\n430,-2.5\n443,-2.25\n458,-2.8\n470,-2.05\n485,-3.1\n498,-2.4\n512,-2.2\n525,-2.7\n540,-3.35\n552,-2.1\n566,-2.45\n580,-2.9\n594,-2.2\n606,-3.2\n620,-2.35\n634,-2.05\n647,-2.6\n660,-3.0\n674,-2.25\n688,-2.5\n700,-2.1\n715,-3.45\n728,-2.4\n742,-2.75\n755,-2.15\n770,-3.05\n782,-2.3\n796,-2.6\n810,-2.05\n822,-2.85\n838,-3.3\n850,-2.2\n864,-2.5\n876,-2.1\n892,-2.95\n905,-2.35\n918,-3.5\n932,-2.2\n946,-2.65\n960,-2.05\n972,-3.1\n988,-2.4\n1000,-2.25\n1014,-2.8\n1028,-2.1\n1040,-3.25\n1055,-2.5\n1068,-2.2\n1082,-2.7\n1095,-3.0\n1110,-2.3\n1122,-2.05\n1137,-2.55\n1150,-3.4\n1163,-2.2\n1178,-2.85\n1190,-2.35\n1205,-2.1\n1218,-3.15\n1232,-2.45\n1245,-2.25\n1260,-2.9\n1272,-2.05\n1287,-3.55\n1300,-2.4\n1313,-2.6\n1327,-2.15\n1340,-3.05\n1354,-2.3\n1368,-2.75\n1380,-2.1\n1395,-3.3\n1408,-2.5\n1422,-2.2\n1435,-2.95\n1448,-2.35\n1462,-2.05\n1476,-3.2\n1490,-2.6\n1502,-2.25\n1517,-2.8\n1530,-2.1\n1544,-3.45\n1557,-2.4\n1570,-2.15\n1585,-2.7\n1598,-3.0\n1611,-2.3\n1625,-2.05\n1638,-2.55\n1652,-3.35\n1665,-2.2\n1678,-2.9\n1692,-2.45\n1705,-2.1\n1720,-3.1\n1732,-2.35\n1747,-2.65\n1760,-2.2\n1773,-3.5\n1787,-2.5\n1800,-2.05\n1814,-2.85\n1827,-2.3\n1840,-3.2\n1855,-2.15\n1868,-2.6\n1881,-2.4\n1895,-3.0\n1908,-2.1\n1922,-2.75\n1935,-2.25\n1948,-3.4\n1962,-2.5\n1975,-2.05\n1990,-2.9\n2003,-2.35\n2017,-3.15\n2030,-2.2\n2044,-2.6\n2057,-2.1\n2070,-3.3\n2084,-2.45\n2098,-2.25\n2110,-2.8\n2125,-2.05\n2138,-3.05\n2152,-2.4\n2165,-2.65\n2178,-2.15\n2192,-3.5\n2205,-2.3\n2219,-2.55\n2232,-2.1\n2246,-2.95\n2260,-2.35\n2273,-3.25\n2286,-2.2\n2300,-2.7\n2313,-2.05\n2327,-3.1\n2340,-2.45\n2354,-2.25\n2367,-2.85\n2380,-2.1\n2395,-3.4\n2408,-2.5\n2421,-2.2\n2435,-2.75\n2448,-3.0\n2462,-2.3\n2475,-2.05\n2489,-2.6\n2502,-3.2\n2516,-2.15\n2530,-2.9\n2543,-2.4\n2556,-2.1\n2570,-3.35\n2583,-2.55\n2597,-2.25\n2610,-2.8\n2624,-2.05\n2637,-3.05\n2650,-2.35\n2664,-2.6\n2678,-2.2\n2691,-3.45\n2705,-2.45\n2718,-2.1\n2731,-2.7\n2745,-3.15\n2758,-2.3\n2772,-2.05\n2785,-2.55\n2798,-3.3\n2812,-2.2\n2825,-2.85\n2840,-2.4\n2852,-2.15\n2866,-3.0\n2880,-2.5\n2893,-2.25\n2906,-2.75\n2920,-3.55\n2933,-2.1\n2946,-2.45\n2960,-2.3\n2974,-3.1\n2987,-2.05\n3000,-2.6\n3015,-2.2\n3028,-3.25\n3041,-2.4\n3055,-2.8\n3068,-2.15\n3082,-2.95\n3095,-2.35\n3108,-2.05\n3122,-3.4\n3135,-2.55\n3149,-2.2\n3163,-2.7\n3176,-3.05\n3190,-2.3\n3203,-2.1\n3216,-2.65\n3230,-3.2\n3243,-2.45\n3257,-2.25\n3270,-2.9\n3284,-2.05\n3297,-3.35\n3311,-2.5\n3324,-2.15\n3338,-2.75\n3351,-2.35\n3365,-3.1\n3378,-2.2\n3392,-2.6\n3405,-2.05\n3418,-2.95\n3432,-3.5\n3446,-2.4\n3459,-2.25\n3472,-2.8\n3486,-2.1\n3500,-3.15\n3513,-2.5\n3527,-2.3\n3540,-2.7\n3554,-2.05\n3567,-3.3\n3581,-2.45\n3594,-2.2\n3608,-2.85\n3621,-3.0\n3634,-2.35\n3648,-2.1\n3662,-2.6\n3675,-3.4\n3688,-2.25\n3702,-2.75\n3716,-2.05\n3729,-3.05\n3742,-2.4\n3756,-2.2\n3770,-2.9\n3783,-3.25\n3797,-2.3\n3810,-2.1\n3824,-2.55\n3837,-3.1\n3851,-2.45\n3864,-2.2\n3878,-2.7\n3891,-3.45\n3905,-2.35\n3918,-2.05\n3932,-2.8\n3945,-3.0\n3958,-2.5\n3972,-2.25\n3985,-2.65\n3996,-3.2\n20,-3.8\n45,-4.3\n75,-3.7\n140,-4.0\n200,-3.9\n300,-4.1\n350,-3.75\n470,-4.4\n540,-3.85\n600,-4.0\n660,-3.7\n720,-4.6\n800,-3.9\n870,-4.2\n930,-3.75\n1000,-4.5\n1070,-3.8\n1130,-4.1\n1190,-3.7\n1250,-4.3\n1300,-3.9\n1380,-4.0\n1440,-3.75\n1520,-4.5\n1575,-3.85\n1620,-4.2\n1700,-3.7\n1760,-4.05\n1820,-4.4\n1870,-3.8\n1930,-4.1\n1990,-3.7\n2040,-4.6\n2080,-3.9\n2130,-4.2\n2180,-3.75\n2220,-4.5\n2270,-3.85\n2320,-4.1\n2360,-3.7\n2410,-4.3\n2470,-3.9\n2520,-4.0\n2580,-3.75\n2630,-4.4\n2690,-3.8\n2750,-4.1\n2800,-3.7\n2850,-4.5\n2900,-3.85\n2960,-4.2\n3020,-3.75\n3080,-4.0\n3140,-4.4\n3200,-3.8\n3260,-4.1\n3320,-3.7\n3380,-4.3\n3440,-3.9\n3500,-4.0\n3560,-3.75\n3620,-4.4\n3680,-3.85\n3740,-4.2\n3800,-3.7\n3860,-4.1\n3920,-3.8\n3970,-4.3\n16,-10.0\n71,-6.8\n102,-6.1\n114,-4.8\n128,-4.9\n284,-6.1\n343,-14.7\n366,-10.8\n394,-12.5\n386,-5.2\n402,-4.3\n469,-6.2\n492,-5.4\n508,-5.7\n634,-5.2\n697,-7.6\n721,-5.8\n737,-6.3\n800,-6.7\n847,-5.2\n946,-5.3\n1044,-5.4\n1154,-6.2\n1123,-4.7\n1221,-4.7\n1332,-5.75\n1355,-5.4\n1316,-8.05\n1470,-13.9\n1485,-8.1\n1493,-4.9\n1501,-5.4\n1631,-8.1\n1765,-7.15\n1737,-5.2\n1844,-5.3\n1938,-5.1\n2021,-5.3\n2041,-4.8\n2187,-8.1\n2210,-8.1\n2218,-8.7\n2234,-4.8\n2198,-5.3\n2384,-5.3\n2565,-4.9\n2644,-5.2\n2722,-4.8\n2821,-5.8\n2916,-7.15\n2935,-10.7\n3010,-6.8\n3089,-5.3\n3109,-5.8\n3195,-9.0\n3262,-6.2\n3313,-5.3\n3380,-4.3\n3443,-5.3\n3522,-6.2\n3605,-11.4\n3648,-9.6\n3676,-6.8\n3818,-5.9\n3849,-8.5\n3948,-5.3\n3905,-4.8", "format": {"type": "csv", "parse": {"x": "number", "y": "number"}}},
 "mark": {"type": "point", "shape": "circle", "filled": false, "color": "#111", "strokeWidth": 1.6, "size": 115, "opacity": 1}},
{"data": {"values": "x,y\n5,-1.95\n27,-2.5\n43,-1.85\n60,-2.15\n85,-2.7\n100,-1.9\n125,-2.35\n140,-1.8\n155,-2.05\n180,-2.6\n195,-1.88\n220,-2.2\n235,-2.85\n250,-1.95\n275,-2.4\n290,-1.82\n315,-2.1\n330,-2.55\n355,-1.9\n370,-2.25\n385,-2.75\n410,-1.85\n425,-2.05\n440,-2.45\n465,-1.92\n480,-2.15\n505,-2.6\n520,-1.83\n535,-2.3\n560,-2.0\n575,-2.8\n590,-1.88\n615,-2.2\n630,-2.5\n645,-1.86\n670,-2.1\n685,-2.7\n695,-1.95\n720,-2.35\n735,-1.82\n750,-2.05\n775,-2.6\n790,-1.9\n805,-2.25\n830,-2.45\n845,-1.85\n860,-2.1\n885,-2.75\n900,-1.93\n915,-2.3\n940,-1.84\n955,-2.05\n970,-2.55\n995,-1.9\n1010,-2.2\n1025,-2.65\n1050,-1.87\n1065,-2.1\n1080,-2.4\n1105,-1.95\n1120,-2.8\n1135,-1.83\n1160,-2.25\n1175,-2.0\n1190,-2.5\n1215,-1.88\n1230,-2.15\n1245,-2.7\n1270,-1.92\n1285,-2.3\n1300,-1.85\n1325,-2.05\n1340,-2.6\n1355,-1.9\n1380,-2.35\n1395,-2.1\n1410,-1.84\n1435,-2.5\n1450,-2.0\n1465,-2.75\n1490,-1.87\n1505,-2.2\n1520,-2.45\n1545,-1.93\n1560,-2.1\n1575,-2.65\n1600,-1.85\n1615,-2.3\n1630,-2.05\n1655,-2.55\n1670,-1.9\n1685,-2.15\n1710,-2.8\n1725,-1.86\n1740,-2.25\n1765,-2.0\n1780,-2.4\n1795,-1.92\n1820,-2.1\n1835,-2.7\n1850,-1.84\n1875,-2.35\n1890,-2.05\n1905,-2.5\n1930,-1.88\n1945,-2.2\n1960,-2.6\n1985,-1.95\n2000,-2.15\n2015,-2.45\n2040,-1.85\n2055,-2.3\n2070,-2.0\n2095,-2.7\n2110,-1.9\n2125,-2.25\n2150,-2.55\n2165,-1.83\n2180,-2.1\n2205,-2.4\n2220,-1.94\n2235,-2.8\n2260,-1.87\n2275,-2.15\n2290,-2.5\n2315,-1.9\n2330,-2.05\n2345,-2.65\n2370,-1.85\n2385,-2.3\n2400,-2.1\n2425,-1.92\n2440,-2.45\n2455,-2.0\n2480,-2.75\n2495,-1.88\n2510,-2.2\n2535,-2.55\n2550,-1.84\n2565,-2.1\n2590,-2.4\n2605,-1.95\n2620,-2.25\n2645,-2.7\n2660,-1.86\n2675,-2.05\n2700,-2.5\n2715,-1.9\n2730,-2.15\n2755,-2.6\n2770,-1.83\n2785,-2.3\n2810,-2.0\n2825,-2.45\n2840,-1.93\n2865,-2.2\n2880,-2.8\n2895,-1.87\n2920,-2.1\n2935,-2.55\n2950,-1.9\n2975,-2.35\n2990,-2.05\n3005,-1.85\n3030,-2.65\n3045,-2.15\n3060,-1.92\n3085,-2.4\n3100,-2.0\n3115,-2.7\n3140,-1.88\n3155,-2.25\n3170,-2.5\n3195,-1.84\n3210,-2.1\n3225,-2.6\n3250,-1.95\n3265,-2.3\n3280,-2.05\n3305,-2.45\n3320,-1.86\n3335,-2.2\n3360,-2.75\n3375,-1.9\n3390,-2.15\n3415,-2.55\n3430,-1.85\n3445,-2.1\n3470,-2.35\n3485,-1.93\n3500,-2.6\n3525,-2.0\n3540,-1.88\n3555,-2.4\n3580,-2.2\n3595,-1.84\n3610,-2.7\n3635,-2.05\n3650,-1.9\n3665,-2.3\n3690,-2.5\n3705,-1.87\n3720,-2.15\n3745,-2.65\n3760,-1.95\n3775,-2.1\n3800,-2.45\n3815,-1.85\n3830,-2.25\n3855,-2.8\n3870,-1.92\n3885,-2.05\n3910,-2.55\n3925,-1.88\n3940,-2.2\n3965,-2.4\n3980,-1.9\n3995,-2.1\n25,2.3\n70,2.1\n110,2.45\n150,2.15\n195,2.35\n240,2.08\n285,2.5\n325,2.2\n365,2.05\n405,2.4\n445,2.15\n490,2.3\n535,2.08\n575,2.55\n615,2.25\n660,2.1\n700,2.45\n745,2.2\n785,2.05\n825,2.35\n865,2.15\n905,2.5\n945,2.08\n990,2.3\n1030,2.2\n1070,2.05\n1110,2.4\n1150,2.15\n1190,2.55\n1235,2.1\n1275,2.3\n1315,2.05\n1355,2.45\n1400,2.2\n1440,2.08\n1480,2.35\n1520,2.15\n1560,2.5\n1600,2.05\n1645,2.3\n1685,2.2\n1725,2.1\n1765,2.45\n1805,2.08\n1850,2.3\n1890,2.15\n1930,2.5\n1970,2.05\n2010,2.25\n2050,2.1\n2095,2.4\n2135,2.2\n2175,2.05\n2215,2.35\n2255,2.12\n2300,2.5\n2340,2.08\n2380,2.3\n2420,2.15\n2460,2.45\n2500,2.05\n2545,2.25\n2585,2.1\n2625,2.4\n2665,2.2\n2705,2.05\n2750,2.35\n2790,2.12\n2830,2.5\n2870,2.08\n2910,2.3\n2955,2.15\n2995,2.45\n3035,2.05\n3075,2.25\n3115,2.1\n3160,2.4\n3200,2.2\n3240,2.05\n3280,2.35\n3320,2.12\n3365,2.5\n3405,2.08\n3445,2.3\n3485,2.15\n3525,2.45\n3570,2.05\n3610,2.25\n3650,2.1\n3690,2.4\n3730,2.2\n3775,2.05\n3815,2.35\n3855,2.12\n3895,2.5\n3935,2.08\n3980,2.3", "format": {"type": "csv", "parse": {"x": "number", "y": "number"}}},
 "mark": {"type": "point", "shape": "circle", "filled": false, "color": "#111", "strokeWidth": 1.6, "size": 115, "opacity": 1}},
{"data": {"values": [{"x": 0, "x2": 4000, "y": 2.0}, {"x": 0, "x2": 4000, "y": -1.72}]},
 "mark": {"type": "rule", "color": "white", "strokeWidth": 3},
 "encoding": {"x2": {"field": "x2"}}},
{"data": {"values": [{"gene": "hutH", "x": 627, "y": 4.48}, {"gene": "rcsA", "x": 958, "y": 4.71}, {"gene": "csgB", "x": 1746, "y": 7.1}, {"gene": "glpT", "x": 1974, "y": 5.88}, {"gene": "nuoI", "x": 1994, "y": 3.8}, {"gene": "sbp", "x": 3326, "y": 4.93}, {"gene": "glnK", "x": 1100, "y": -15.66}]},
 "mark": {"type": "point", "shape": "triangle-up", "filled": true, "color": "#000", "size": 160, "opacity": 1}},
{"data": {"values": [{"gene": "hutH", "x": 666, "y": 5.07}, {"gene": "rcsA", "x": 954, "y": 5.29}, {"gene": "csgB", "x": 1742, "y": 8.0}, {"gene": "glpT", "x": 1970, "y": 6.56}, {"gene": "nuoI", "x": 1892, "y": 4.07}, {"gene": "sbp", "x": 3228, "y": 4.62}, {"gene": "glnK", "x": 1237, "y": -15.84}]},
 "mark": {"type": "text", "font": "Liberation Sans", "fontSize": 21, "fontWeight": "bold", "fontStyle": "italic", "align": "center", "baseline": "alphabetic", "color": "#000"},
 "encoding": {"text": {"field": "gene"}}},
{"data": {"values": [{"note": "Higher transcribed on sprouts", "x": 2857, "y": 14.21}, {"note": "Higher transcribed on M9-glucose", "x": 3241, "y": -16.33}]},
 "mark": {"type": "text", "font": "Liberation Sans", "fontSize": 25, "fontWeight": "bold", "align": "center", "baseline": "alphabetic", "color": "#000"},
 "encoding": {"text": {"field": "note"}}},
{"data": {"values": [{"sym": "↓", "x": 1017, "y": -16.2}]},
 "mark": {"type": "text", "font": "DejaVu Sans", "fontSize": 25, "align": "center", "baseline": "alphabetic", "color": "#000"},
 "encoding": {"text": {"field": "sym"}}}
]
}
